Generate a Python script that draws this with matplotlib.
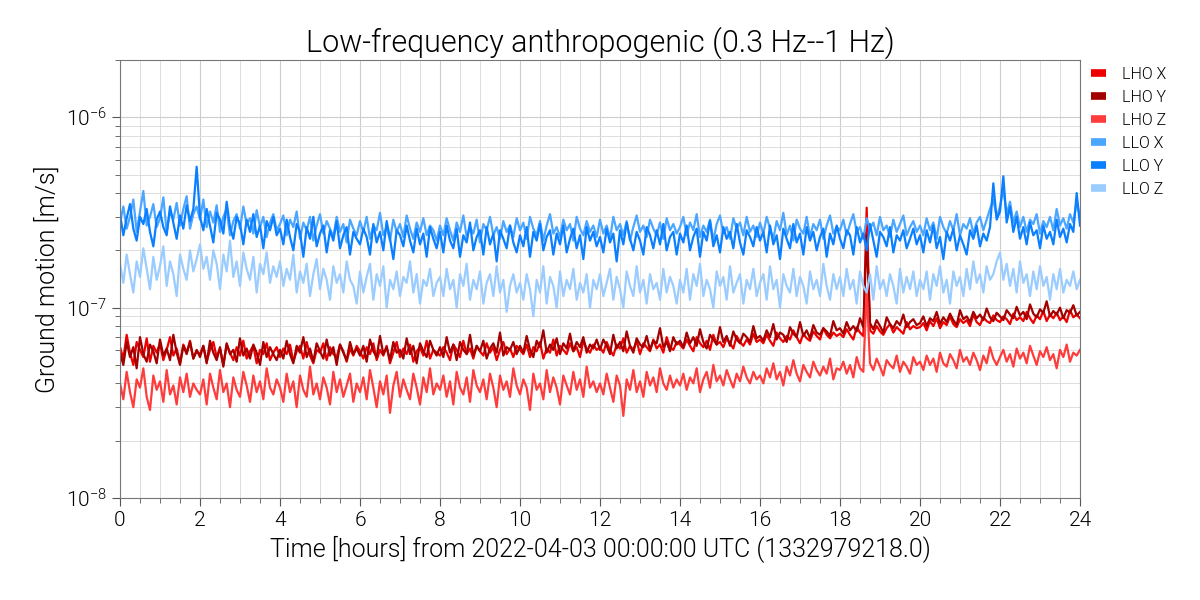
import numpy as np
import matplotlib
matplotlib.use('Agg')
import matplotlib.pyplot as plt
from matplotlib.ticker import LogLocator, MultipleLocator, NullFormatter
from matplotlib.lines import Line2D

plt.rcParams['font.family'] = ['Roboto', 'DejaVu Sans']
plt.rcParams['font.weight'] = 300
plt.rcParams['axes.titleweight'] = 300
plt.rcParams['axes.labelweight'] = 300
plt.rcParams['mathtext.fontset'] = 'custom'
plt.rcParams['mathtext.rm'] = 'Roboto:light'
plt.rcParams['mathtext.it'] = 'Roboto:italic:light'

# samples every 5 minutes, values in units of 1e-9 m/s
hours = np.arange(289) / 12.0

lho_x = [62, 54, 72, 58, 50, 66, 60, 55, 69, 52, 63, 58, 65, 53, 60, 70, 56, 61, 51, 64, 58, 67, 54, 59,
         57, 63, 52, 60, 66, 55, 61, 50, 64, 58, 53, 62, 56, 67, 54, 59, 63, 51, 60, 57, 65, 53, 58, 62,
         55, 61, 57, 64, 52, 59, 63, 54, 66, 56, 51, 60, 58, 65, 53, 62, 57, 55, 64, 59, 52, 61, 56, 63,
         59, 54, 62, 57, 65, 53, 60, 56, 63, 51, 58, 66, 55, 61, 57, 64, 52, 59, 62, 56, 67, 54, 60, 58,
         56, 62, 58, 53, 64, 60, 55, 67, 57, 61, 54, 63, 59, 56, 65, 58, 62, 53, 60, 66, 57, 61, 55, 63,
         60, 57, 64, 55, 62, 59, 66, 54, 61, 58, 68, 56, 63, 60, 57, 65, 59, 62, 55, 67, 61, 58, 64, 60,
         62, 58, 66, 60, 56, 64, 61, 69, 58, 63, 60, 67, 57, 65, 62, 59, 68, 61, 64, 58, 70, 62, 60, 66,
         64, 61, 68, 63, 59, 70, 65, 62, 67, 60, 72, 64, 66, 62, 69, 65, 61, 71, 66, 63, 68, 64, 73, 66,
         68, 65, 72, 67, 63, 74, 69, 66, 71, 68, 76, 70, 65, 73, 69, 67, 75, 71, 68, 78, 72, 69, 74, 71,
         73, 70, 77, 72, 68, 79, 74, 71, 335, 76, 73, 80, 75, 72, 78, 82, 74, 79, 76, 73, 84, 77, 80, 78,
         79, 83, 76, 85, 80, 88, 78, 84, 81, 90, 82, 79, 87, 83, 86, 80, 92, 84, 81, 89, 85, 83, 91, 86,
         84, 90, 87, 82, 93, 86, 89, 85, 95, 88, 83, 91, 87, 96, 85, 92, 88, 94, 86, 90, 84, 97, 89, 92,
         88]
lho_y = [58, 50, 66, 55, 62, 48, 70, 57, 52, 64, 59, 51, 68, 56, 61, 53, 72, 58, 50, 63, 57, 66, 54, 60,
         55, 63, 51, 67, 58, 53, 62, 49, 65, 57, 60, 52, 69, 56, 61, 54, 64, 58, 50, 66, 55, 62, 57, 53,
         60, 54, 67, 57, 51, 63, 58, 70, 55, 61, 52, 65, 59, 54, 68, 56, 62, 50, 64, 58, 53, 66, 57, 61,
         56, 63, 52, 68, 59, 55, 71, 57, 62, 53, 66, 58, 60, 54, 69, 57, 63, 51, 65, 59, 55, 67, 60, 56,
         62, 55, 70, 58, 64, 53, 66, 60, 57, 72, 56, 63, 59, 67, 54, 61, 65, 58, 74, 56, 62, 60, 66, 57,
         63, 58, 71, 60, 55, 67, 62, 76, 58, 64, 60, 69, 57, 65, 61, 73, 59, 66, 62, 70, 58, 64, 61, 68,
         60, 68, 63, 57, 72, 61, 66, 59, 75, 63, 58, 69, 64, 62, 71, 60, 67, 65, 78, 62, 66, 59, 70, 64,
         67, 62, 74, 65, 70, 63, 77, 66, 61, 72, 68, 64, 79, 66, 71, 63, 75, 68, 65, 73, 70, 66, 80, 69,
         71, 67, 76, 70, 82, 68, 74, 72, 66, 79, 73, 70, 84, 71, 76, 69, 81, 74, 72, 78, 75, 71, 85, 76,
         78, 73, 84, 76, 80, 75, 88, 79, 240, 83, 77, 86, 80, 74, 89, 82, 78, 85, 81, 92, 79, 84, 87, 81,
         83, 90, 80, 88, 85, 95, 82, 89, 84, 93, 86, 81, 97, 87, 90, 84, 95, 88, 92, 86, 99, 89, 85, 94,
         90, 86, 97, 92, 88, 101, 91, 95, 87, 104, 93, 89, 98, 94, 108, 90, 96, 92, 100, 88, 97, 94, 103, 91,
         95]
lho_z = [40, 33, 46, 36, 30, 42, 38, 48, 34, 29, 44, 37, 41, 32, 47, 35, 39, 31, 43, 36, 45, 34, 40, 37,
         35, 42, 31, 45, 38, 33, 47, 36, 40, 30, 43, 37, 34, 46, 39, 32, 44, 36, 41, 33, 48, 38, 35, 42,
         38, 32, 45, 36, 41, 30, 44, 37, 34, 49, 35, 40, 33, 43, 38, 31, 46, 36, 42, 34, 39, 45, 32, 40,
         36, 43, 33, 47, 38, 30, 41, 35, 44, 28, 39, 46, 34, 42, 37, 33, 45, 38, 31, 43, 36, 48, 35, 40,
         37, 44, 34, 41, 31, 46, 38, 35, 43, 32, 47, 39, 36, 42, 33, 45, 38, 30, 44, 37, 41, 34, 48, 39,
         35, 42, 38, 29, 45, 37, 40, 33, 47, 36, 43, 38, 31, 44, 39, 35, 46, 37, 42, 34, 49, 38, 41, 36,
         40, 35, 45, 38, 32, 44, 39, 27, 42, 37, 47, 36, 41, 34, 46, 39, 43, 36, 48, 40, 37, 44, 38, 42,
         39, 45, 37, 43, 40, 48, 36, 42, 46, 38, 50, 41, 44, 39, 47, 42, 38, 45, 41, 49, 43, 40, 46, 42,
         44, 40, 48, 43, 51, 42, 46, 39, 49, 44, 53, 45, 41, 50, 46, 43, 52, 47, 44, 49, 45, 54, 42, 48,
         47, 52, 45, 50, 43, 55, 48, 46, 125, 51, 47, 54, 49, 44, 53, 50, 48, 56, 46, 52, 49, 45, 55, 50,
         52, 47, 56, 50, 54, 46, 58, 51, 49, 57, 53, 48, 60, 52, 55, 50, 58, 53, 47, 56, 51, 62, 54, 50,
         55, 60, 52, 57, 49, 61, 54, 58, 51, 63, 56, 50, 59, 55, 62, 53, 57, 48, 60, 55, 64, 52, 58, 56,
         60]
llo_x = [280, 340, 260, 300, 370, 250, 320, 410, 270, 300, 350, 265, 295, 380, 250, 320, 290, 355, 270, 330, 385, 260, 310, 340,
         290, 370, 265, 320, 280, 345, 250, 300, 330, 240, 285, 310, 260, 340, 275, 295, 245, 325, 265, 300, 235, 280, 310, 255,
         275, 305, 240, 290, 265, 320, 230, 280, 255, 300, 225, 270, 310, 245, 285, 260, 235, 300, 250, 275, 220, 290, 260, 240,
         285, 250, 300, 230, 270, 255, 315, 240, 265, 225, 290, 250, 275, 235, 305, 260, 230, 280, 250, 295, 240, 270, 255, 225,
         270, 240, 295, 255, 225, 280, 250, 305, 235, 265, 245, 290, 220, 275, 255, 300, 240, 265, 230, 285, 250, 270, 235, 295,
         255, 280, 230, 300, 260, 240, 285, 225, 270, 310, 245, 265, 235, 290, 255, 275, 225, 300, 260, 240, 285, 250, 270, 235,
         290, 245, 270, 230, 300, 255, 275, 240, 285, 225, 265, 305, 250, 270, 235, 290, 260, 240, 280, 230, 295, 255, 275, 245,
         265, 300, 240, 280, 255, 310, 235, 270, 250, 290, 225, 275, 305, 245, 265, 230, 295, 260, 280, 240, 300, 250, 270, 235,
         280, 245, 300, 260, 230, 285, 255, 315, 240, 270, 225, 290, 260, 245, 300, 235, 275, 255, 290, 230, 270, 305, 245, 265,
         255, 290, 240, 275, 310, 250, 265, 230, 295, 260, 280, 240, 300, 255, 270, 235, 290, 250, 275, 305, 240, 265, 285, 250,
         270, 240, 295, 255, 280, 230, 300, 265, 245, 285, 255, 310, 240, 275, 260, 295, 245, 280, 300, 255, 290, 330, 370, 300,
         340, 420, 310, 360, 280, 320, 265, 300, 250, 290, 275, 310, 245, 285, 265, 300, 255, 330, 270, 295, 260, 310, 280, 360,
         300]
llo_y = [310, 240, 295, 350, 260, 225, 300, 275, 330, 250, 210, 290, 320, 265, 240, 340, 280, 230, 305, 260, 345, 285, 330, 550,
         300, 255, 330, 270, 220, 315, 290, 245, 360, 265, 230, 300, 275, 215, 290, 250, 310, 235, 270, 205, 285, 255, 300, 240,
         260, 215, 290, 235, 200, 275, 250, 185, 265, 230, 300, 210, 245, 270, 195, 255, 225, 285, 205, 240, 265, 190, 250, 230,
         215, 260, 235, 190, 275, 220, 250, 200, 285, 230, 180, 255, 240, 210, 270, 225, 195, 260, 215, 245, 185, 265, 230, 205,
         250, 195, 270, 225, 205, 260, 185, 240, 220, 280, 200, 235, 255, 190, 265, 215, 245, 175, 255, 230, 205, 270, 220, 195,
         240, 210, 265, 185, 250, 225, 275, 200, 235, 255, 190, 245, 215, 270, 195, 230, 260, 205, 240, 180, 265, 225, 250, 210,
         235, 195, 260, 220, 245, 175, 255, 215, 280, 230, 200, 250, 225, 190, 265, 240, 205, 255, 215, 275, 200, 235, 250, 190,
         245, 220, 270, 200, 235, 260, 185, 250, 225, 285, 210, 240, 195, 265, 230, 250, 205, 275, 220, 190, 255, 235, 210, 265,
         225, 250, 195, 270, 215, 240, 180, 260, 230, 205, 275, 220, 245, 190, 265, 225, 250, 200, 235, 260, 185, 245, 215, 270,
         230, 205, 255, 240, 190, 265, 220, 245, 200, 275, 225, 185, 250, 235, 210, 265, 195, 240, 225, 255, 205, 230, 260, 215,
         240, 195, 255, 220, 270, 205, 235, 180, 250, 225, 260, 200, 240, 215, 190, 255, 230, 270, 210, 245, 225, 265, 450, 290,
         320, 490, 280, 340, 250, 300, 230, 265, 215, 280, 240, 255, 205, 270, 230, 250, 215, 290, 235, 260, 220, 275, 250, 400,
         270]
llo_z = [170, 135, 190, 150, 120, 175, 145, 205, 160, 125, 185, 140, 165, 210, 130, 175, 150, 115, 190, 160, 140, 200, 155, 180,
         215, 160, 185, 140, 200, 170, 125, 190, 155, 225, 145, 175, 130, 195, 160, 140, 185, 120, 170, 150, 195, 135, 165, 145,
         175, 130, 160, 140, 190, 120, 155, 135, 170, 115, 150, 180, 125, 160, 140, 110, 165, 135, 150, 120, 175, 140, 130, 105,
         155, 120, 145, 170, 110, 150, 130, 165, 100, 140, 125, 155, 115, 145, 135, 175, 120, 150, 105, 140, 130, 160, 115, 135,
         145, 115, 160, 125, 140, 100, 150, 130, 170, 110, 140, 125, 155, 105, 135, 150, 115, 165, 120, 140, 95, 130, 150, 120,
         135, 110, 150, 125, 90, 140, 120, 165, 105, 145, 130, 100, 155, 115, 140, 125, 160, 110, 135, 120, 150, 100, 140, 125,
         150, 115, 135, 160, 110, 145, 125, 100, 155, 130, 115, 165, 120, 140, 105, 150, 125, 135, 110, 160, 120, 145, 130, 105,
         140, 120, 160, 110, 150, 130, 170, 115, 140, 125, 100, 155, 130, 145, 110, 165, 120, 135, 150, 105, 140, 125, 160, 115,
         135, 150, 110, 165, 125, 140, 100, 150, 130, 120, 160, 115, 145, 130, 105, 155, 125, 140, 115, 170, 130, 110, 150, 125,
         145, 115, 160, 125, 140, 105, 155, 130, 120, 150, 110, 165, 125, 140, 115, 150, 130, 105, 160, 120, 145, 125, 155, 115,
         140, 125, 155, 110, 150, 130, 165, 120, 140, 105, 155, 130, 145, 115, 160, 125, 175, 135, 150, 120, 165, 140, 150, 175,
         195, 140, 170, 130, 160, 120, 175, 135, 150, 115, 155, 125, 165, 130, 145, 110, 150, 125, 160, 120, 140, 130, 155, 125,
         140]

labels = ['LHO X', 'LHO Y', 'LHO Z', 'LLO X', 'LLO Y', 'LLO Z']
series = [lho_x, lho_y, lho_z, llo_x, llo_y, llo_z]
colors = ['#ee0000', '#a30000', '#ff3c3c', '#4ba6ff', '#0a7fff', '#9bccff']

fig = plt.figure(figsize=(12, 6), dpi=100)
ax = fig.add_axes([0.1, 0.17, 0.8, 0.73])

for vals, lab, col in zip(series, labels, colors):
    ax.plot(hours, np.array(vals) * 1e-9, color=col, lw=1.6, label=lab)

ax.set_yscale('log')
ax.set_ylim(1e-8, 2e-6)
ax.set_xlim(0, 24)
ax.xaxis.set_major_locator(MultipleLocator(2))
ax.xaxis.set_minor_locator(MultipleLocator(0.5))
ax.yaxis.set_minor_locator(LogLocator(base=10, subs=np.arange(2, 10)))
ax.yaxis.set_minor_formatter(NullFormatter())

ax.grid(True, which='major', color='#cccccc', lw=0.8)
ax.grid(True, which='minor', color='#dddddd', lw=0.7)
ax.set_axisbelow(True)

for s in ax.spines.values():
    s.set_color('#777777')
ax.tick_params(which='both', color='#555555', labelcolor='black', labelsize=15,
               direction='out')
ax.tick_params(which='major', length=6)
ax.tick_params(which='minor', length=3.5)

ax.set_title('Low-frequency anthropogenic (0.3 Hz--1 Hz)', fontsize=22, pad=6,
             color='black', fontweight=300)
ax.set_xlabel('Time [hours] from 2022-04-03 00:00:00 UTC (1332979218.0)', fontsize=18,
              color='black', fontweight=300)
ax.set_ylabel('Ground motion [m/s]', fontsize=18, color='black', fontweight=300)

handles = [Line2D([0], [0], color=c, lw=5.5, solid_capstyle='butt') for c in colors]
leg = ax.legend(handles, labels, loc='upper left', bbox_to_anchor=(1.0, 1.01),
                frameon=False, fontsize=11.5, handlelength=0.9, handletextpad=1.0,
                labelspacing=0.5, borderaxespad=0.3)
for t in leg.get_texts():
    t.set_color('black')

fig.savefig('out.png', dpi=100)
